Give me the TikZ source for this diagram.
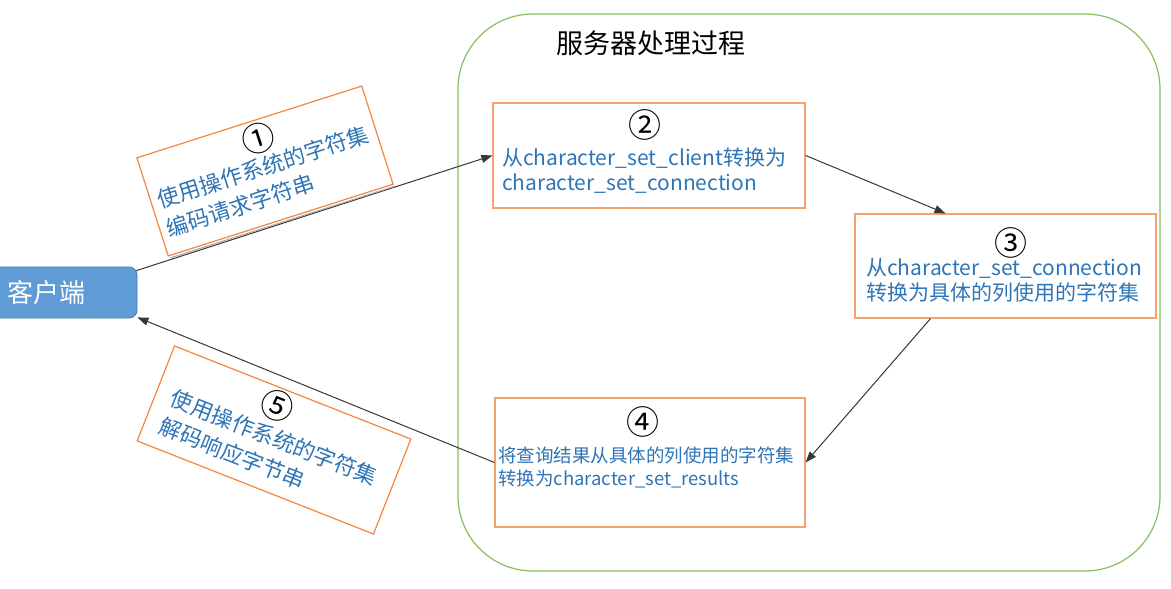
\documentclass[tikz,border=0pt]{standalone}
\usepackage{fontspec}
\setmainfont{Noto Sans CJK SC}
\usetikzlibrary{arrows.meta}
\definecolor{boxorange}{RGB}{245,160,112}
\definecolor{tiltorange}{RGB}{242,135,65}
\definecolor{srvgreen}{RGB}{135,192,95}
\definecolor{txtblue}{RGB}{46,117,182}
\definecolor{clientblue}{RGB}{95,155,212}
\definecolor{clientedge}{RGB}{70,120,170}
\definecolor{arrowgray}{RGB}{55,55,55}
\newcommand{\bignum}[1]{{\fontsize{33}{30}\selectfont #1}}
\tikzset{
  stepbox/.style={draw=boxorange, line width=1.2pt, fill=white, inner sep=0pt},
  tiltbox/.style={draw=tiltorange, line width=1.2pt, fill=white, inner sep=0pt},
  numtxt/.style={font=\fontsize{33}{34}\selectfont, text=black, inner sep=0pt},
  bluetxt/.style={font=\fontsize{21}{24}\selectfont, text=txtblue, inner sep=0pt, anchor=base west},
  smalltxt/.style={font=\fontsize{18.5}{21}\selectfont, text=txtblue, inner sep=0pt, anchor=base west},
  tilttxt/.style={font=\fontsize{22}{30}\selectfont, text=txtblue, inner sep=0pt, anchor=base west, align=left},
  conn/.style={draw=arrowgray, line width=1pt, -{Triangle[length=11pt,width=8pt]}},
}
\begin{document}
\begin{tikzpicture}[x=1pt,y=-1pt]
\useasboundingbox (0,0) rectangle (1171,589);
\fill[white] (0,0) rectangle (1171,589);

% server container
\node[draw=srvgreen, line width=1.2pt, rounded corners=75pt, minimum width=702pt, minimum height=557pt, inner sep=0pt] (server) at (809,292.5) {};
\node[font=\fontsize{27}{30}\selectfont, anchor=west, inner sep=0pt] (title) at (556,43) {服务器处理过程};

% client
\node[draw=clientedge, fill=clientblue, line width=0.8pt, rounded corners=8pt, minimum width=147pt, minimum height=51pt, inner sep=0pt] (client) at (63.5,292.5) {};
\node[font=\fontsize{26}{28}\selectfont, text=white, anchor=west, inner sep=0pt] (clienttxt) at (7,293) {客户端};

% box 2
\node[stepbox, minimum width=312pt, minimum height=105pt] (box2) at (649,155.5) {};
\node[numtxt] (n2) at (645,125) {②};
\node[bluetxt] (t2a) at (502,165) {从character\_set\_client转换为};
\node[bluetxt] (t2b) at (502,190) {character\_set\_connection};

% box 3
\node[stepbox, minimum width=301pt, minimum height=104pt] (box3) at (1005.5,266) {};
\node[numtxt] (n3) at (1011,243) {③};
\node[bluetxt] (t3a) at (866,275) {从character\_set\_connection};
\node[bluetxt] (t3b) at (866,300) {转换为具体的列使用的字符集};

% box 4
\node[stepbox, minimum width=310pt, minimum height=129pt] (box4) at (650,462.5) {};
\node[numtxt] (n4) at (643,422) {④};
\node[smalltxt] (t4a) at (498,462) {将查询结果从具体的列使用的字符集};
\node[smalltxt] (t4b) at (498,485) {转换为character\_set\_results};

% arrows
\draw[conn] ([xshift=-1pt,yshift=-4pt]client.north east) -- (box2.west);
\draw[conn] (box2.east) -- ([xshift=-60pt]box3.north);
\draw[conn] ([xshift=-75pt]box3.south) -- (box4.east);
\draw[conn] (box4.west) -- ([yshift=1pt]client.south east);

% box 1 (tilted)
\begin{scope}[shift={(265,171)}, rotate=17.7, transform shape]
  \draw[gray!70, line width=1pt] (-116,54) -- (119,54);
  \node[tiltbox, minimum width=236pt, minimum height=103pt] (box1) at (0,0) {};
  \node[tilttxt] (t1) at (-111,34) {\hspace*{98pt}{\color{black}\bignum{①}}\\[-6pt]使用操作系统的字符集\\编码请求字符串};
\end{scope}

% box 5 (tilted)
\begin{scope}[shift={(274,440)}, rotate=-21.5, transform shape]
  \node[tiltbox, minimum width=254pt, minimum height=102pt] (box5) at (0,0) {};
  \node[tilttxt] (t5) at (-111,36) {\hspace*{85pt}{\color{black}\bignum{⑤}}\\[-3pt]使用操作系统的字符集\\解码响应字节串};
\end{scope}
\end{tikzpicture}
\end{document}
